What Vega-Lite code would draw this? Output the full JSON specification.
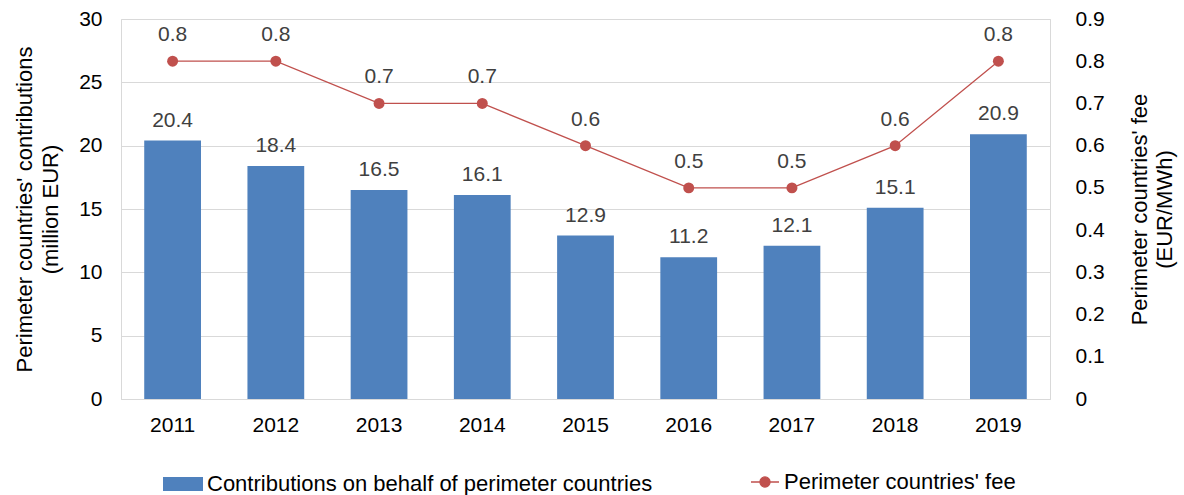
{
  "$schema": "https://vega.github.io/schema/vega-lite/v6.json",
  "autosize": "none",
  "width": 929,
  "height": 380,
  "padding": {"left": 121, "top": 19, "right": 134, "bottom": 96},
  "background": "white",
  "config": {
    "font": "Liberation Sans",
    "view": {"stroke": "#d9d9d9", "strokeWidth": 1},
    "axis": {"labelFont": "Liberation Sans", "titleFont": "Liberation Sans", "labelColor": "#000000", "titleColor": "#000000", "labelFontSize": 21, "titleFontSize": 22, "titleFontWeight": "normal"},
    "legend": {"labelFont": "Liberation Sans", "labelFontSize": 22, "labelColor": "#000000", "labelLimit": 0}
  },
  "data": {
    "values": [
      {"year": "2011", "contrib": 20.4, "fee": 0.8},
      {"year": "2012", "contrib": 18.4, "fee": 0.8},
      {"year": "2013", "contrib": 16.5, "fee": 0.7},
      {"year": "2014", "contrib": 16.1, "fee": 0.7},
      {"year": "2015", "contrib": 12.9, "fee": 0.6},
      {"year": "2016", "contrib": 11.2, "fee": 0.5},
      {"year": "2017", "contrib": 12.1, "fee": 0.5},
      {"year": "2018", "contrib": 15.1, "fee": 0.6},
      {"year": "2019", "contrib": 20.9, "fee": 0.8}
    ]
  },
  "encoding": {
    "x": {
      "field": "year", "type": "nominal",
      "scale": {"paddingInner": 0.45, "paddingOuter": 0.225},
      "axis": {"title": null, "labelAngle": 0, "ticks": false, "domainColor": "#d9d9d9", "labelPadding": 15}
    }
  },
  "layer": [
    {
      "encoding": {
        "y": {
          "field": "contrib", "type": "quantitative",
          "scale": {"domain": [0, 30]},
          "axis": {
            "title": ["Perimeter countries' contributions", "(million EUR)"],
            "values": [0, 5, 10, 15, 20, 25, 30],
            "ticks": false, "domain": false,
            "gridColor": "#d9d9d9", "labelPadding": 19, "titlePadding": 16,
            "titleLineHeight": 26
          }
        }
      },
      "layer": [
        {
          "mark": {"type": "bar"},
          "encoding": {
            "fill": {
              "datum": "Contributions on behalf of perimeter countries",
              "scale": {"range": ["#4F81BD"]},
              "legend": {
                "title": null, "orient": "none", "legendX": 42, "legendY": 445,
                "symbolType": "M-1,-0.35 H1 V0.35 H-1 Z", "symbolSize": 1600,
                "symbolStrokeWidth": 0, "labelOffset": 4
              }
            }
          }
        },
        {
          "mark": {"type": "text", "dy": -20, "fontSize": 21, "color": "#404040", "font": "Liberation Sans"},
          "encoding": {"text": {"field": "contrib", "type": "quantitative", "format": ".1f"}}
        }
      ]
    },
    {
      "encoding": {
        "y": {
          "field": "fee", "type": "quantitative",
          "scale": {"domain": [0, 0.9]},
          "axis": {
            "title": ["Perimeter countries' fee", "(EUR/MWh)"],
            "orient": "right",
            "titleAngle": 270,
            "values": [0, 0.1, 0.2, 0.3, 0.4, 0.5, 0.6, 0.7, 0.8, 0.9],
            "format": "~g",
            "grid": false, "ticks": false, "domain": false,
            "labelPadding": 25, "titlePadding": 22, "titleLineHeight": 25
          }
        }
      },
      "layer": [
        {
          "mark": {"type": "line", "color": "#C0504D", "strokeWidth": 1.3},
          "encoding": {
            "stroke": {
              "datum": "Perimeter countries' fee",
              "scale": {"range": ["#C0504D"]},
              "legend": {
                "title": null, "orient": "none", "legendX": 629, "legendY": 448,
                "symbolType": "M-1,0 H1 M0.36,0 A0.36,0.36 0 1,1 -0.36,0 A0.36,0.36 0 1,1 0.36,0 Z",
                "symbolSize": 784, "symbolFillColor": "#C0504D", "symbolStrokeColor": "#C0504D",
                "symbolStrokeWidth": 1.3, "labelOffset": 4
              }
            }
          }
        },
        {
          "mark": {"type": "point", "filled": true, "size": 120, "color": "#C0504D", "opacity": 1}
        },
        {
          "mark": {"type": "text", "dy": -26, "fontSize": 21, "color": "#404040", "font": "Liberation Sans"},
          "encoding": {"text": {"field": "fee", "type": "quantitative", "format": ".1f"}}
        }
      ]
    }
  ],
  "resolve": {"scale": {"y": "independent"}}
}
